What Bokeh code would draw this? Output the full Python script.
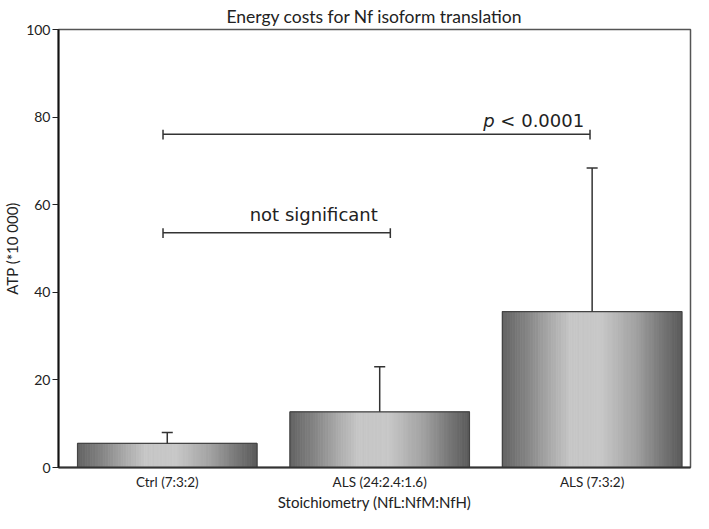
from bokeh.plotting import figure
from bokeh.models import Range1d, FixedTicker, Label
from bokeh.embed import file_html
from bokeh.resources import INLINE
import numpy as np

# ---- data ----
categories = ["Ctrl (7:3:2)", "ALS (24:2.4:1.6)", "ALS (7:3:2)"]
atp_mean = [5.5, 12.7, 35.6]
atp_upper = [8.0, 23.0, 68.4]
y_ticks = [0, 20, 40, 60, 80, 100]

# significance brackets (x in category index units, y in ATP units)
bracket_start = [0.98, 0.98]
bracket_end = [2.99, 2.05]
bracket_y = [76.1, 53.6]
bracket_text = ["< 0.0001", "not significant"]

# ---- style ----
BAR_W = 0.845
N_SLICES = 70
grad_t = [0.0, 0.15, 0.26, 0.38, 0.55, 0.75, 0.885, 1.0]
grad_v = [98, 136, 168, 198, 200, 160, 120, 90]
X0, X1 = 0.488, 3.463

x_pos = [i + 1 for i in range(len(categories))]

p = figure(width=693, height=513, output_backend="svg", toolbar_location=None,
           x_range=Range1d(X0, X1), y_range=Range1d(0, 100),
           min_border_left=54, min_border_right=3, min_border_top=28,
           min_border_bottom=38)

p.title.text = "Energy costs for Nf isoform translation"
p.title.align = "center"
p.title.text_font = "Lato"
p.title.text_font_size = "17.5px"
p.title.text_font_style = "normal"
p.title.text_color = "#222222"
p.title.standoff = 6

p.xgrid.visible = False
p.ygrid.visible = False
p.outline_line_color = "#555555"
p.outline_line_width = 1.5
p.background_fill_color = "white"
p.border_fill_color = "white"

# gradient bars built from thin slices
lefts, rights, tops, colors = [], [], [], []
for xc, m in zip(x_pos, atp_mean):
    edges = np.linspace(xc - BAR_W / 2, xc + BAR_W / 2, N_SLICES + 1)
    for k in range(N_SLICES):
        t = (k + 0.5) / N_SLICES
        g = int(round(np.interp(t, grad_t, grad_v)))
        lefts.append(edges[k]); rights.append(edges[k + 1]); tops.append(m)
        colors.append("#%02x%02x%02x" % (g, g, g))
p.quad(left=lefts, right=rights, bottom=0, top=tops, fill_color=colors,
       line_color=colors, line_width=0.8)
p.quad(left=[x - BAR_W / 2 for x in x_pos], right=[x + BAR_W / 2 for x in x_pos],
       bottom=0, top=atp_mean, fill_color=None, line_color="#444444", line_width=1.2)

# error bars
cap = 0.026
p.segment(x0=x_pos, y0=atp_mean, x1=x_pos, y1=atp_upper, line_color="#333333", line_width=1.5)
p.segment(x0=[x - cap for x in x_pos], y0=atp_upper, x1=[x + cap for x in x_pos], y1=atp_upper,
          line_color="#333333", line_width=1.5)

# significance brackets
p.segment(x0=bracket_start, y0=bracket_y, x1=bracket_end, y1=bracket_y,
          line_color="#333333", line_width=1.5)
for xs in (bracket_start, bracket_end):
    p.segment(x0=xs, y0=[y + 1.0 for y in bracket_y], x1=xs, y1=[y - 1.2 for y in bracket_y],
              line_color="#333333", line_width=1.5)

p.add_layout(Label(x=2.488, y=bracket_y[0] + 3.2, text="p", text_font="DejaVu Sans",
                   text_font_size="18px", text_font_style="italic", text_color="#222222",
                   text_baseline="alphabetic"))
p.add_layout(Label(x=2.488, y=bracket_y[0] + 3.2, x_offset=17, text=bracket_text[0],
                   text_font="DejaVu Sans", text_font_size="18px", text_color="#222222",
                   text_baseline="alphabetic"))
p.add_layout(Label(x=1.388, y=bracket_y[1] + 4.2, text=bracket_text[1], text_font="DejaVu Sans",
                   text_font_size="18px", text_color="#222222", text_baseline="alphabetic"))

# axes
p.xaxis.ticker = FixedTicker(ticks=x_pos)
p.xaxis.major_label_overrides = {x: c for x, c in zip(x_pos, categories)}
p.xaxis.major_tick_out = 0
p.xaxis.major_tick_in = 0
p.xaxis.minor_tick_out = 0
p.xaxis.minor_tick_in = 0
p.xaxis.major_label_standoff = 6
p.xaxis.major_label_text_font = "Lato"
p.xaxis.major_label_text_font_size = "13.5px"
p.xaxis.major_label_text_color = "#222222"
p.xaxis.axis_label = "Stoichiometry (NfL:NfM:NfH)"
p.xaxis.axis_label_text_font = "Lato"
p.xaxis.axis_label_text_font_size = "15px"
p.xaxis.axis_label_text_font_style = "normal"
p.xaxis.axis_label_text_color = "#222222"
p.xaxis.axis_label_standoff = 0
p.xaxis.axis_line_color = "#333333"
p.xaxis.axis_line_width = 2

p.yaxis.ticker = FixedTicker(ticks=y_ticks)
p.yaxis.major_tick_out = 6
p.yaxis.major_tick_in = 0
p.yaxis.minor_tick_out = 0
p.yaxis.minor_tick_in = 0
p.yaxis.major_tick_line_color = "#222222"
p.yaxis.major_tick_line_width = 1.2
p.yaxis.major_label_standoff = 2
p.yaxis.major_label_text_font = "Lato"
p.yaxis.major_label_text_font_size = "14px"
p.yaxis.major_label_text_color = "#222222"
p.yaxis.axis_label = "ATP (*10 000)"
p.yaxis.axis_label_text_font = "Lato"
p.yaxis.axis_label_text_font_size = "15px"
p.yaxis.axis_label_text_font_style = "normal"
p.yaxis.axis_label_text_color = "#222222"
p.yaxis.axis_label_standoff = 2
p.yaxis.axis_line_color = "#111111"
p.yaxis.axis_line_width = 2

open("out.html", "w").write(file_html(p, INLINE))
